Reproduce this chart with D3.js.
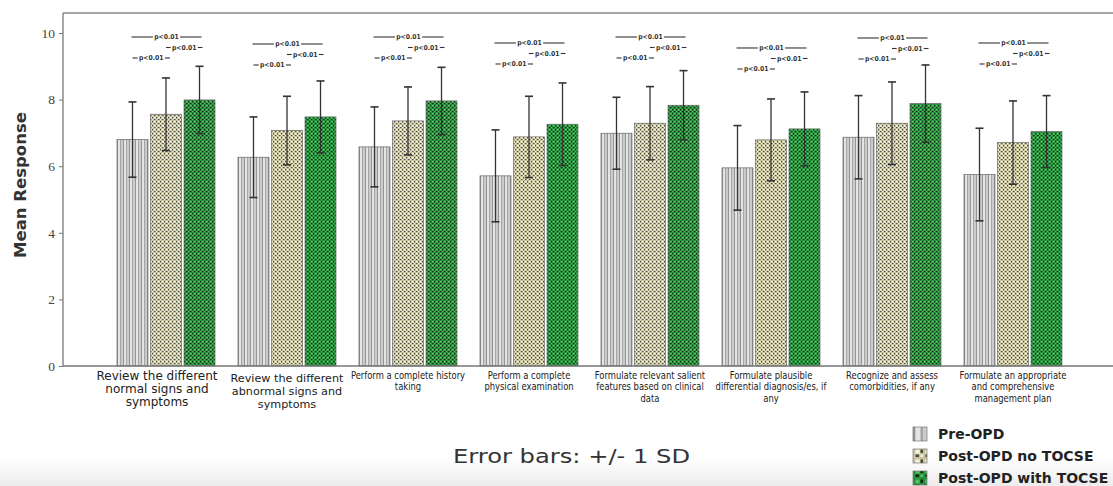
<!DOCTYPE html>
<html><head><meta charset="utf-8">
<script src="https://cdn.jsdelivr.net/npm/d3@7"></script>
<style>
html,body{margin:0;padding:0;background:#fff;}
svg{display:block;}
</style></head>
<body>
<svg id="chart" width="1113" height="486"></svg>
<script>
// ---- data ----
const categories = [
  ["Review the different","normal signs and","symptoms"],
  ["Review the different","abnormal signs and","symptoms"],
  ["Perform a complete history","taking"],
  ["Perform a complete","physical examination"],
  ["Formulate relevant salient","features based on clinical","data"],
  ["Formulate plausible","differential diagnosis/es, if","any"],
  ["Recognize and assess","comorbidities, if any"],
  ["Formulate an appropriate","and comprehensive","management plan"]
];
const seriesNames = ["Pre-OPD","Post-OPD no TOCSE","Post-OPD with TOCSE"];
const preMean  = [6.80, 6.27, 6.58, 5.71, 6.99, 5.95, 6.87, 5.75];
const preSD    = [1.13, 1.21, 1.20, 1.38, 1.08, 1.27, 1.25, 1.39];
const noMean   = [7.56, 7.07, 7.36, 6.88, 7.29, 6.79, 7.29, 6.71];
const noSD     = [1.09, 1.03, 1.02, 1.22, 1.10, 1.23, 1.24, 1.25];
const withMean = [7.99, 7.48, 7.96, 7.26, 7.83, 7.12, 7.88, 7.04];
const withSD   = [1.01, 1.08, 1.01, 1.24, 1.04, 1.11, 1.16, 1.08];
const sigTop   = [9.88, 9.67, 9.88, 9.70, 9.88, 9.55, 9.85, 9.70];
const sigLabel = "p<0.01";
const yTicks   = [0, 2, 4, 6, 8, 10];
const yTitle   = "Mean Response";
const footNote = "Error bars: +/- 1 SD";

const means = [preMean, noMean, withMean];
const sds = [preSD, noSD, withSD];

const svg = d3.select("#chart");
const defs = svg.append("defs");

// bottom gradient
const grad = defs.append("linearGradient").attr("id","bg").attr("x1",0).attr("y1",0).attr("x2",0).attr("y2",1);
grad.append("stop").attr("offset","0%").attr("stop-color","#ffffff");
grad.append("stop").attr("offset","100%").attr("stop-color","#ececec");
svg.append("rect").attr("x",0).attr("y",458).attr("width",1113).attr("height",28).attr("fill","url(#bg)");

// patterns
function makePatterns(suffix, scale){
  const tr = scale===1 ? null : `scale(${scale})`;
  let p = defs.append("pattern").attr("id","pre"+suffix).attr("patternUnits","userSpaceOnUse")
    .attr("width",6).attr("height",6);
  if(tr) p.attr("patternTransform",tr);
  p.append("rect").attr("width",6).attr("height",6).attr("fill","#d2d2d2");
  p.append("rect").attr("x",0).attr("width",1).attr("height",6).attr("fill","#949494");
  p.append("rect").attr("x",1).attr("width",2).attr("height",6).attr("fill","#e4e4e4");
  p.append("rect").attr("x",3).attr("width",1).attr("height",6).attr("fill","#a6a6a6");
  p.append("rect").attr("x",4).attr("width",2).attr("height",6).attr("fill","#cbcbcb");

  p = defs.append("pattern").attr("id","no"+suffix).attr("patternUnits","userSpaceOnUse")
    .attr("width",4).attr("height",4);
  if(tr) p.attr("patternTransform",tr);
  p.append("rect").attr("width",4).attr("height",4).attr("fill","#c9c59e");
  p.append("rect").attr("x",1).attr("y",1).attr("width",1.7).attr("height",1.7).attr("fill","#f5f3da");
  p.append("rect").attr("x",3).attr("y",3).attr("width",1.7).attr("height",1.7).attr("fill","#f5f3da");
  p.append("rect").attr("x",3).attr("y",1).attr("width",1.4).attr("height",1.4).attr("fill","#4a4a40");
  p.append("rect").attr("x",1).attr("y",3).attr("width",1.4).attr("height",1.4).attr("fill","#4a4a40");

  p = defs.append("pattern").attr("id","with"+suffix).attr("patternUnits","userSpaceOnUse")
    .attr("width",4).attr("height",4);
  if(tr) p.attr("patternTransform",tr);
  p.append("rect").attr("width",4).attr("height",4).attr("fill","#27903c");
  p.append("rect").attr("x",1).attr("y",1).attr("width",1.6).attr("height",1.6).attr("fill","#5cc266");
  p.append("rect").attr("x",3).attr("y",3).attr("width",1.6).attr("height",1.6).attr("fill","#5cc266");
  p.append("rect").attr("x",3).attr("y",1).attr("width",1.4).attr("height",1.4).attr("fill","#0a2a10");
  p.append("rect").attr("x",1).attr("y",3).attr("width",1.4).attr("height",1.4).attr("fill","#0a2a10");
}
makePatterns("", 1);
makePatterns("L", 2.5);
const fills = ["pre","no","with"];

// scales
const y = d3.scaleLinear().domain([0,10.5]).range([366, 366 - 10.5*33.3]);
const x0 = d3.scaleBand().domain(d3.range(categories.length)).range([105.5, 1073.5])
  .paddingInner(0.19).paddingOuter(0.095);
const x1 = d3.scaleBand().domain(d3.range(3)).range([0, x0.bandwidth()]).paddingInner(0.075);

// frame top line
svg.append("line").attr("x1",63).attr("x2",1113).attr("y1",13).attr("y2",13)
  .attr("stroke","#888").attr("stroke-width",1.5);

// y axis
const yAxis = d3.axisLeft(y).tickValues(yTicks).tickSize(4).tickPadding(4).tickFormat(d3.format("d"));
const yg = svg.append("g").attr("transform","translate(63,0)").call(yAxis);
yg.select(".domain").attr("d", `M-0,${y(0)}V13`).attr("stroke","#777").attr("stroke-width",1.3);
yg.selectAll(".tick line").attr("stroke","#777");
yg.selectAll(".tick text").attr("font-family","'Liberation Serif', serif").attr("font-size",13.5).attr("fill","#444");

svg.append("text").attr("transform",`translate(26,${185}) rotate(-90)`)
  .attr("text-anchor","middle").attr("font-family","'DejaVu Sans', sans-serif")
  .attr("font-weight","bold").attr("font-size",16.5).attr("fill","#333").text(yTitle);

// bars
const groups = svg.append("g").selectAll("g").data(categories).join("g")
  .attr("transform",(d,i)=>`translate(${x0(i)},0)`);

groups.each(function(d,i){
  const g = d3.select(this);
  for(let s=0;s<3;s++){
    const m = means[s][i];
    g.append("rect").attr("x",x1(s)).attr("y",y(m)).attr("width",x1.bandwidth())
      .attr("height",y(0)-y(m)).attr("fill",`url(#${fills[s]})`)
      .attr("stroke","#666").attr("stroke-width",0.7);
  }
  for(let s=0;s<3;s++){
    const m = means[s][i], sd = sds[s][i];
    const cx = x1(s)+x1.bandwidth()/2;
    g.append("line").attr("x1",cx).attr("x2",cx).attr("y1",y(m+sd)).attr("y2",y(m-sd))
      .attr("stroke","#333").attr("stroke-width",1.3);
    [m+sd, m-sd].forEach(v=>{
      g.append("line").attr("x1",cx-4).attr("x2",cx+4).attr("y1",y(v)).attr("y2",y(v))
        .attr("stroke","#333").attr("stroke-width",1.6);
    });
  }
  // significance brackets
  const c = s => x1(s)+x1.bandwidth()/2;
  const pairs = [[0,2,0,-1,2],[1,2,1,0,3],[0,1,2,0,4]];
  pairs.forEach(([a,b,level,ea,eb])=>{
    const yy = y(sigTop[i]) + level*10.5;
    const xa = c(a)+ea, xb = c(b)+eb;
    const mid = (xa+xb)/2;
    const t = g.append("text").attr("x",mid).attr("y",yy+2.4).attr("text-anchor","middle")
      .attr("font-family","'DejaVu Sans Condensed','DejaVu Sans',sans-serif").attr("font-weight","bold")
      .attr("font-size",6.8).attr("fill","#333").text(sigLabel);
    const w = t.node().getComputedTextLength();
    g.append("line").attr("x1",xa).attr("x2",mid-w/2-1.3).attr("y1",yy).attr("y2",yy)
      .attr("stroke","#333").attr("stroke-width",1.1);
    g.append("line").attr("x1",mid+w/2+1.3).attr("x2",xb).attr("y1",yy).attr("y2",yy)
      .attr("stroke","#333").attr("stroke-width",1.1);
  });
});

// x axis line
svg.append("line").attr("x1",63).attr("x2",1113).attr("y1",y(0)).attr("y2",y(0))
  .attr("stroke","#777").attr("stroke-width",1.3);

// category labels
categories.forEach((lines,i)=>{
  const wide = i<2;
  const cx = x0(i)+x0.bandwidth()/2 + (i===0 ? -9 : 0);
  const t = svg.append("text").attr("text-anchor","middle")
    .attr("transform", wide ? `translate(${cx},0)` : `translate(${cx},0) scale(0.85,1)`)
    .attr("font-family", wide ? "'DejaVu Sans', sans-serif" : "'DejaVu Sans Condensed',sans-serif")
    .attr("font-size", i===0 ? 12 : (i===1 ? 11.2 : 11)).attr("fill","#222");
  const lh = wide ? 12.8 : 11.5;
  const y0 = wide ? 380 + (i===1?2:0) : 379;
  lines.forEach((ln,k)=>{
    t.append("tspan").attr("x",0).attr("y",y0+k*lh).text(ln);
  });
});

// footnote
svg.append("text").attr("x",453).attr("y",463).attr("font-family","'DejaVu Sans', sans-serif")
  .attr("font-size",20).attr("fill","#333").attr("textLength",237).attr("lengthAdjust","spacingAndGlyphs").text(footNote);

// legend
const leg = svg.append("g").attr("transform","translate(913,427)");
seriesNames.forEach((n,i)=>{
  const gy = i*22;
  leg.append("rect").attr("x",0).attr("y",gy).attr("width",14).attr("height",14)
    .attr("fill",`url(#${fills[i]}L)`).attr("stroke","#777").attr("stroke-width",0.7);
  leg.append("text").attr("x",25).attr("y",gy+12).attr("font-family","'DejaVu Sans', sans-serif")
    .attr("font-weight","bold").attr("font-size",14).attr("fill","#222").text(n);
});
</script>
</body></html>
